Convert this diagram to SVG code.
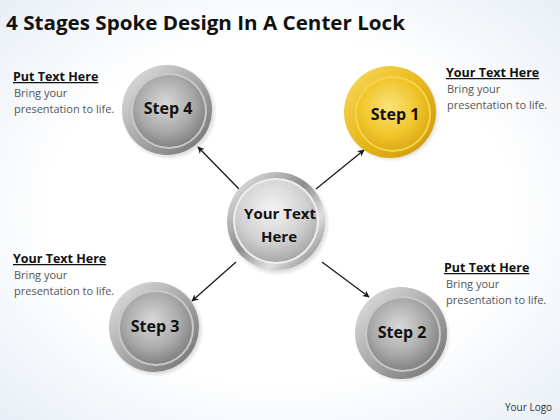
<svg xmlns="http://www.w3.org/2000/svg" width="560" height="420" viewBox="0 0 560 420">
<defs>
<radialGradient id="bg" cx="0.5" cy="0.5" r="0.75">
<stop offset="0.55" stop-color="#ffffff"/>
<stop offset="1" stop-color="#e4ecf4"/>
</radialGradient>
<linearGradient id="rimG" x1="0" y1="0" x2="1" y2="1">
<stop offset="0" stop-color="#e6e6e6"/>
<stop offset="0.5" stop-color="#a8a8a8"/>
<stop offset="1" stop-color="#6e6e6e"/>
</linearGradient>
<radialGradient id="faceG" cx="0.45" cy="0.4" r="0.65">
<stop offset="0" stop-color="#d9d9d9"/>
<stop offset="0.6" stop-color="#a9a9a9"/>
<stop offset="1" stop-color="#7a7a7a"/>
</radialGradient>
<linearGradient id="rimY" x1="0" y1="0" x2="1" y2="1">
<stop offset="0" stop-color="#f8dc60"/>
<stop offset="0.5" stop-color="#e8b81c"/>
<stop offset="1" stop-color="#c8960a"/>
</linearGradient>
<radialGradient id="faceY" cx="0.45" cy="0.4" r="0.65">
<stop offset="0" stop-color="#fbe27a"/>
<stop offset="0.6" stop-color="#f1c62c"/>
<stop offset="1" stop-color="#d9a612"/>
</radialGradient>
<linearGradient id="rimC" x1="0" y1="0" x2="1" y2="1">
<stop offset="0" stop-color="#f4f4f4"/>
<stop offset="0.45" stop-color="#8c8c8c"/>
<stop offset="0.7" stop-color="#e0e0e0"/>
<stop offset="1" stop-color="#6a6a6a"/>
</linearGradient>
<radialGradient id="faceC" cx="0.45" cy="0.35" r="0.7">
<stop offset="0" stop-color="#f4f4f4"/>
<stop offset="0.6" stop-color="#d0d0d0"/>
<stop offset="1" stop-color="#a0a0a0"/>
</radialGradient>
<radialGradient id="shadow" cx="0.5" cy="0.5" r="0.5">
<stop offset="0.8" stop-color="#000" stop-opacity="0.25"/>
<stop offset="1" stop-color="#000" stop-opacity="0"/>
</radialGradient>
<marker id="arr" viewBox="0 0 10 10" refX="9" refY="5" markerWidth="7" markerHeight="7" orient="auto" markerUnits="userSpaceOnUse">
<path d="M0,0 L10,5 L0,10 L3,5 Z" fill="#1a1a1a"/>
</marker>
<style>
.title{font-family:"Open Sans","Liberation Sans",sans-serif;font-weight:bold;font-size:20px;fill:#111}
.head{font-family:"Open Sans","Liberation Sans",sans-serif;font-weight:bold;font-size:12.5px;fill:#111;text-decoration:underline}
.body{font-family:"Open Sans","Liberation Sans",sans-serif;font-size:11px;fill:#555}
.step{font-family:"Open Sans","Liberation Sans",sans-serif;font-weight:bold;font-size:16px;fill:#111;text-anchor:middle}
.ctr{font-family:"Open Sans","Liberation Sans",sans-serif;font-weight:bold;font-size:15px;fill:#111;text-anchor:middle}
.logo{font-family:"Open Sans","Liberation Sans",sans-serif;font-size:10px;fill:#333}
.conn line{stroke:#1a1a1a;stroke-width:1.3;marker-end:url(#arr)}
</style>
</defs>
<rect width="560" height="420" fill="url(#bg)"/>
<text class="title" x="6" y="30" textLength="399" lengthAdjust="spacingAndGlyphs">4 Stages Spoke Design In A Center Lock</text>

<g id="connectors" class="conn">
<line x1="239" y1="189" x2="198" y2="147"/>
<line x1="316" y1="189" x2="364" y2="150"/>
<line x1="236" y1="262" x2="192" y2="301"/>
<line x1="322" y1="262" x2="369" y2="297"/>
</g>

<g id="center">
<circle cx="278" cy="224" r="52" fill="url(#shadow)"/>
<circle cx="276" cy="221" r="49" fill="url(#rimC)"/>
<circle cx="276" cy="221" r="43" fill="#eeeeee"/>
<circle cx="276" cy="221" r="41" fill="url(#faceC)"/>
<text class="ctr" x="280" y="219">Your Text</text>
<text class="ctr" x="279" y="242">Here</text>
</g>

<g id="step4">
<circle cx="169" cy="112" r="48" fill="url(#shadow)"/>
<circle cx="167" cy="110" r="45" fill="url(#rimG)"/>
<circle cx="169" cy="111" r="38" fill="#c8c8c8"/>
<circle cx="169" cy="111" r="36" fill="url(#faceG)"/>
<text class="step" x="168" y="114">Step 4</text>
</g>

<g id="step1">
<circle cx="392" cy="114" r="48" fill="url(#shadow)"/>
<circle cx="390" cy="112" r="46" fill="url(#rimY)"/>
<circle cx="393" cy="114" r="38" fill="#f6d44c"/>
<circle cx="393" cy="114" r="36" fill="url(#faceY)"/>
<text class="step" x="395" y="120">Step 1</text>
</g>

<g id="step3">
<circle cx="156" cy="329" r="48" fill="url(#shadow)"/>
<circle cx="154" cy="327" r="45" fill="url(#rimG)"/>
<circle cx="156" cy="328" r="38" fill="#c8c8c8"/>
<circle cx="156" cy="328" r="36" fill="url(#faceG)"/>
<text class="step" x="155" y="332">Step 3</text>
</g>

<g id="step2">
<circle cx="403" cy="335" r="48" fill="url(#shadow)"/>
<circle cx="401" cy="333" r="46" fill="url(#rimG)"/>
<circle cx="403" cy="334" r="38" fill="#c8c8c8"/>
<circle cx="403" cy="334" r="36" fill="url(#faceG)"/>
<text class="step" x="402" y="338">Step 2</text>
</g>

<g id="text-top-left">
<text class="head" x="13" y="81">Put Text Here</text>
<text class="body" x="14" y="97">Bring your</text>
<text class="body" x="14" y="113">presentation to life.</text>
</g>
<g id="text-top-right">
<text class="head" x="446" y="77">Your Text Here</text>
<text class="body" x="447" y="93">Bring your</text>
<text class="body" x="447" y="109">presentation to life.</text>
</g>
<g id="text-bottom-left">
<text class="head" x="13" y="263">Your Text Here</text>
<text class="body" x="14" y="279">Bring your</text>
<text class="body" x="14" y="295">presentation to life.</text>
</g>
<g id="text-bottom-right">
<text class="head" x="444" y="272">Put Text Here</text>
<text class="body" x="446" y="288">Bring your</text>
<text class="body" x="446" y="304">presentation to life.</text>
</g>
<text class="logo" x="505" y="411">Your Logo</text>
</svg>
